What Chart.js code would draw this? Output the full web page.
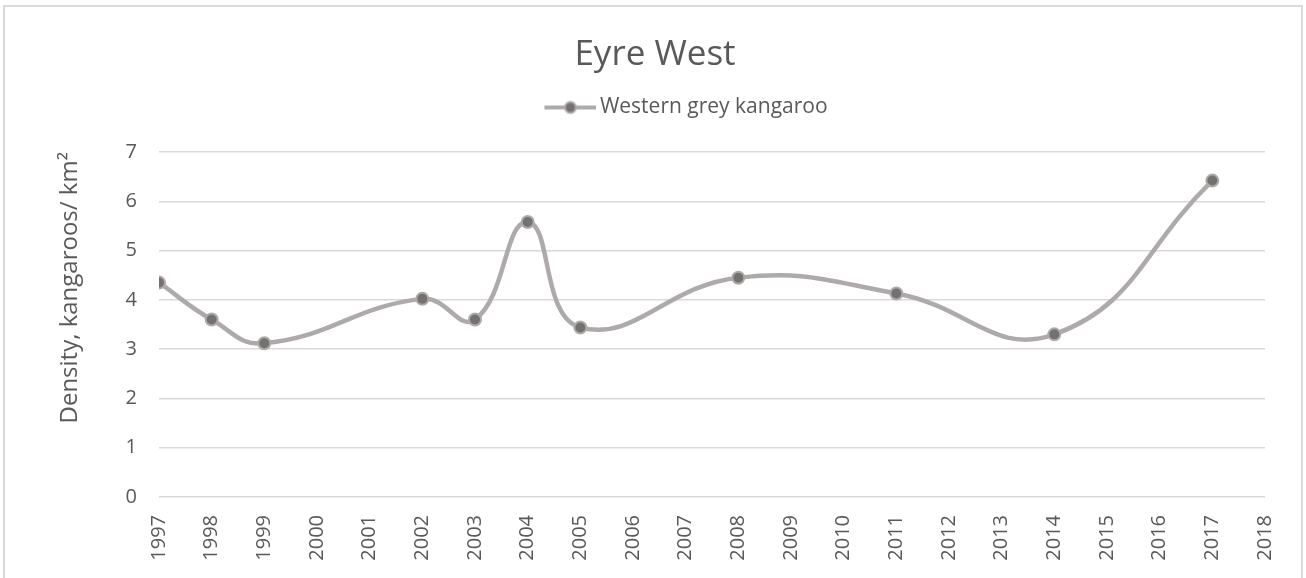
<!DOCTYPE html>
<html>
<head>
<meta charset="utf-8">
<script src="https://cdn.jsdelivr.net/npm/chart.js@4/dist/chart.umd.min.js"></script>
<style>
  body { margin: 0; background: #fff; }
  #frame { position: absolute; left: 3px; top: 5px; width: 1300px; height: 600px; border: 2px solid #d9d9d9; box-sizing: border-box; }
  #wrap { position: absolute; left: 0; top: 0; width: 1306px; height: 578px; }
</style>
</head>
<body>
<div id="frame"></div>
<div id="wrap"><canvas id="chart" width="1306" height="578"></canvas></div>
<script>
// chart values
const years = [1997, 1998, 1999, 2002, 2003, 2004, 2005, 2008, 2011, 2014, 2017];
const density = [4.35, 3.6, 3.12, 4.02, 3.6, 5.58, 3.44, 4.45, 4.13, 3.3, 6.42];
const yTicks = [0, 1, 2, 3, 4, 5, 6, 7];
const xMin = 1997, xMax = 2018;

const lineColor = "#aeaaaa";
const dotColor = "#767171";
const textColor = "#595959";
const font = "'Open Sans', 'Liberation Sans', sans-serif";

// legend symbol: line with a dot, drawn in the right part of a wide image
function legendSymbol() {
    const c = document.createElement("canvas");
    c.width = 121; c.height = 16;
    const ctx = c.getContext("2d");
    ctx.strokeStyle = lineColor;
    ctx.lineWidth = 4;
    ctx.beginPath();
    ctx.moveTo(69, 8);
    ctx.lineTo(121, 8);
    ctx.stroke();
    ctx.beginPath();
    ctx.arc(95, 8, 5.5, 0, Math.PI * 2);
    ctx.fillStyle = dotColor;
    ctx.fill();
    ctx.lineWidth = 2;
    ctx.strokeStyle = lineColor;
    ctx.stroke();
    return c;
}

const points = years.map((y, i) => ({x: y, y: density[i]}));

// extra room below the legend
const legendGap = {
    id: "legendGap",
    afterInit(chart) {
        const lg = chart.legend;
        const fit = lg.fit.bind(lg);
        lg.fit = function () { fit(); this.height += 24; };
    }
};

new Chart(document.getElementById("chart").getContext("2d"), {
    type: "line",
    data: {
        datasets: [{
            label: "Western grey kangaroo",
            data: points,
            borderColor: lineColor,
            borderWidth: 4.5,
            tension: 0.45,
            pointRadius: 6,
            pointBackgroundColor: dotColor,
            pointBorderColor: lineColor,
            pointBorderWidth: 2,
            fill: false
        }]
    },
    plugins: [legendGap],
    options: {
        responsive: false,
        animation: false,
        layout: { padding: { left: 45, right: 41, top: 0, bottom: 0 } },
        plugins: {
            tooltip: { enabled: false },
            title: {
                display: true,
                text: "Eyre West",
                color: textColor,
                font: { family: font, size: 35, weight: "normal" },
                padding: { top: 34, bottom: 9 }
            },
            legend: {
                labels: {
                    color: textColor,
                    font: { family: font, size: 21 },
                    usePointStyle: true,
                    pointStyleWidth: 107,
                    padding: 12,
                    generateLabels: chart => [{
                        text: chart.data.datasets[0].label,
                        pointStyle: legendSymbol(),
                        fontColor: textColor,
                        datasetIndex: 0
                    }]
                }
            }
        },
        scales: {
            x: {
                type: "linear",
                min: xMin,
                max: xMax,
                afterBuildTicks: axis => {
                    axis.ticks = [];
                    for (let y = xMin; y <= xMax; y++) axis.ticks.push({value: y});
                },
                grid: { display: false },
                border: { display: false },
                ticks: {
                    color: textColor,
                    font: { family: font, size: 20 },
                    minRotation: 90,
                    maxRotation: 90,
                    autoSkip: false,
                    padding: 10,
                    callback: v => String(v)
                },
                afterFit: axis => { axis.height = 81; }
            },
            y: {
                min: 0,
                max: 7,
                afterBuildTicks: axis => { axis.ticks = yTicks.map(v => ({value: v})); },
                grid: { color: "#d9d9d9", lineWidth: 1.5, drawTicks: false },
                border: { display: false },
                ticks: {
                    color: textColor,
                    font: { family: font, size: 20 },
                    padding: 22
                },
                title: {
                    display: true,
                    text: "Density, kangaroos/ km²",
                    align: "end",
                    color: textColor,
                    font: { family: font, size: 24 },
                    padding: { top: 11, bottom: 0 }
                },
                afterFit: axis => { axis.width = 114; }
            }
        }
    }
});
</script>
</body>
</html>
